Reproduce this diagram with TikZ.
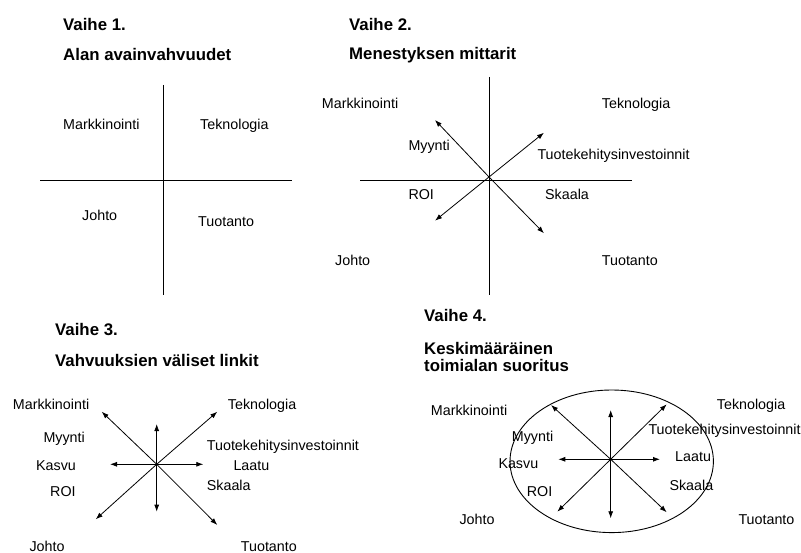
\documentclass[tikz,border=0pt]{standalone}
\usepackage{fontspec}
\setmainfont{Liberation Sans}
\usetikzlibrary{arrows.meta}
\begin{document}
\begin{tikzpicture}[x=1pt,y=-1pt,
  lbl/.style={anchor=base west,inner sep=0pt,font=\fontsize{14.3}{17}\selectfont},
  ttl/.style={anchor=base west,inner sep=0pt,font=\fontsize{16.8}{17}\selectfont\bfseries,align=left},
  axis/.style={line width=0.9pt},
  arr/.style={line width=0.8pt,-{Latex[length=7pt,width=5pt]}}]
\useasboundingbox (0,0) rectangle (801,553);

% ---- Vaihe 1: quadrants
\node[ttl] (t1a) at (63,30.7) {Vaihe 1.};
\node[ttl] (t1b) at (63,60.5) {Alan avainvahvuudet};
\coordinate (v1t) at (163,85);  \coordinate (v1b) at (163,295);
\coordinate (h1l) at (40,180);  \coordinate (h1r) at (292,180);
\draw[axis] (v1t) -- (v1b);
\draw[axis] (h1l) -- (h1r);
\node[lbl] (m1) at (63,130) {Markkinointi};
\node[lbl] (k1) at (200,130) {Teknologia};
\node[lbl] (j1) at (82,221) {Johto};
\node[lbl] (p1) at (198,226.5) {Tuotanto};

% ---- Vaihe 2: measures of success
\node[ttl] (t2a) at (349,30.7) {Vaihe 2.};
\node[ttl] (t2b) at (349,59.5) {Menestyksen mittarit};
\coordinate (v2t) at (489.3,77);  \coordinate (v2b) at (489.3,295);
\coordinate (h2l) at (360,180);   \coordinate (h2r) at (632,180);
\draw[axis] (v2t) -- (v2b);
\draw[axis] (h2l) -- (h2r);
\coordinate (c2) at (489,177);
\coordinate (c2nw) at (435,120);
\coordinate (c2ne) at (544,132.7);
\coordinate (c2sw) at (435,220.7);
\coordinate (c2se) at (544,233.3);
\foreach \e in {c2nw,c2ne,c2sw,c2se} \draw[arr] (c2) -- (\e);
\node[lbl] (m2) at (321.7,108.3) {Markkinointi};
\node[lbl] (k2) at (601.7,108.3) {Teknologia};
\node[lbl] (y2) at (408.3,150.5) {Myynti};
\node[lbl] (r2) at (537.3,159.3) {Tuotekehitysinvestoinnit};
\node[lbl] (o2) at (408.3,199.3) {ROI};
\node[lbl] (s2) at (545,199.3) {Skaala};
\node[lbl] (j2) at (335,266) {Johto};
\node[lbl] (p2) at (601.7,266) {Tuotanto};

% ---- Vaihe 3: links between strengths
\node[ttl] (t3a) at (55,336) {Vaihe 3.};
\node[ttl] (t3b) at (55,366.7) {Vahvuuksien väliset linkit};
\coordinate (c3) at (156.7,464.3);
\coordinate (c3nw) at (101.7,411.7);
\coordinate (c3ne) at (217.3,411.7);
\coordinate (c3sw) at (95.7,519.3);
\coordinate (c3se) at (217.3,525);
\coordinate (c3n) at (156.7,424);
\coordinate (c3s) at (156.7,511.7);
\coordinate (c3w) at (110,464.3);
\coordinate (c3e) at (203.3,464.3);
\foreach \e in {c3nw,c3ne,c3sw,c3se,c3n,c3s,c3w,c3e} \draw[arr] (c3) -- (\e);
\node[lbl] (m3) at (12.7,409.3) {Markkinointi};
\node[lbl] (k3) at (227.7,409.3) {Teknologia};
\node[lbl] (y3) at (43.3,442.5) {Myynti};
\node[lbl] (r3) at (206.7,450) {Tuotekehitysinvestoinnit};
\node[lbl] (g3) at (36,470) {Kasvu};
\node[lbl] (q3) at (233.3,470) {Laatu};
\node[lbl] (o3) at (50,496.7) {ROI};
\node[lbl] (s3) at (206.7,490.7) {Skaala};
\node[lbl] (j3) at (29.3,551.5) {Johto};
\node[lbl] (p3) at (240.7,551.5) {Tuotanto};

% ---- Vaihe 4: average industry performance
\node[ttl] (t4a) at (424,321.7) {Vaihe 4.};
\node[ttl] (t4b) at (424,355) {Keskimääräinen};
\node[ttl] (t4c) at (424,371.7) {toimialan suoritus};
\coordinate (c4) at (610.7,459.3);
\draw[axis] (611.7,461.3) ellipse [x radius=101.7, y radius=71.3];
\coordinate (c4nw) at (551,405);
\coordinate (c4ne) at (666.7,404.3);
\coordinate (c4sw) at (557.3,511.7);
\coordinate (c4se) at (666.7,512.3);
\coordinate (c4n) at (610.7,410);
\coordinate (c4s) at (610.7,518.3);
\coordinate (c4w) at (558.3,459.3);
\coordinate (c4e) at (660,459.3);
\foreach \e in {c4nw,c4ne,c4sw,c4se,c4n,c4s,c4w,c4e} \draw[arr] (c4) -- (\e);
\node[lbl] (m4) at (430.7,415) {Markkinointi};
\node[lbl] (k4) at (716.7,409.3) {Teknologia};
\node[lbl] (r4) at (648.3,435) {Tuotekehitysinvestoinnit};
\node[lbl] (y4) at (511.7,441.7) {Myynti};
\node[lbl] (g4) at (498.3,468.3) {Kasvu};
\node[lbl] (q4) at (675,461.7) {Laatu};
\node[lbl] (o4) at (526.7,496.7) {ROI};
\node[lbl] (s4) at (669.3,490.7) {Skaala};
\node[lbl] (j4) at (459.3,524) {Johto};
\node[lbl] (p4) at (738.3,524) {Tuotanto};
\end{tikzpicture}
\end{document}
